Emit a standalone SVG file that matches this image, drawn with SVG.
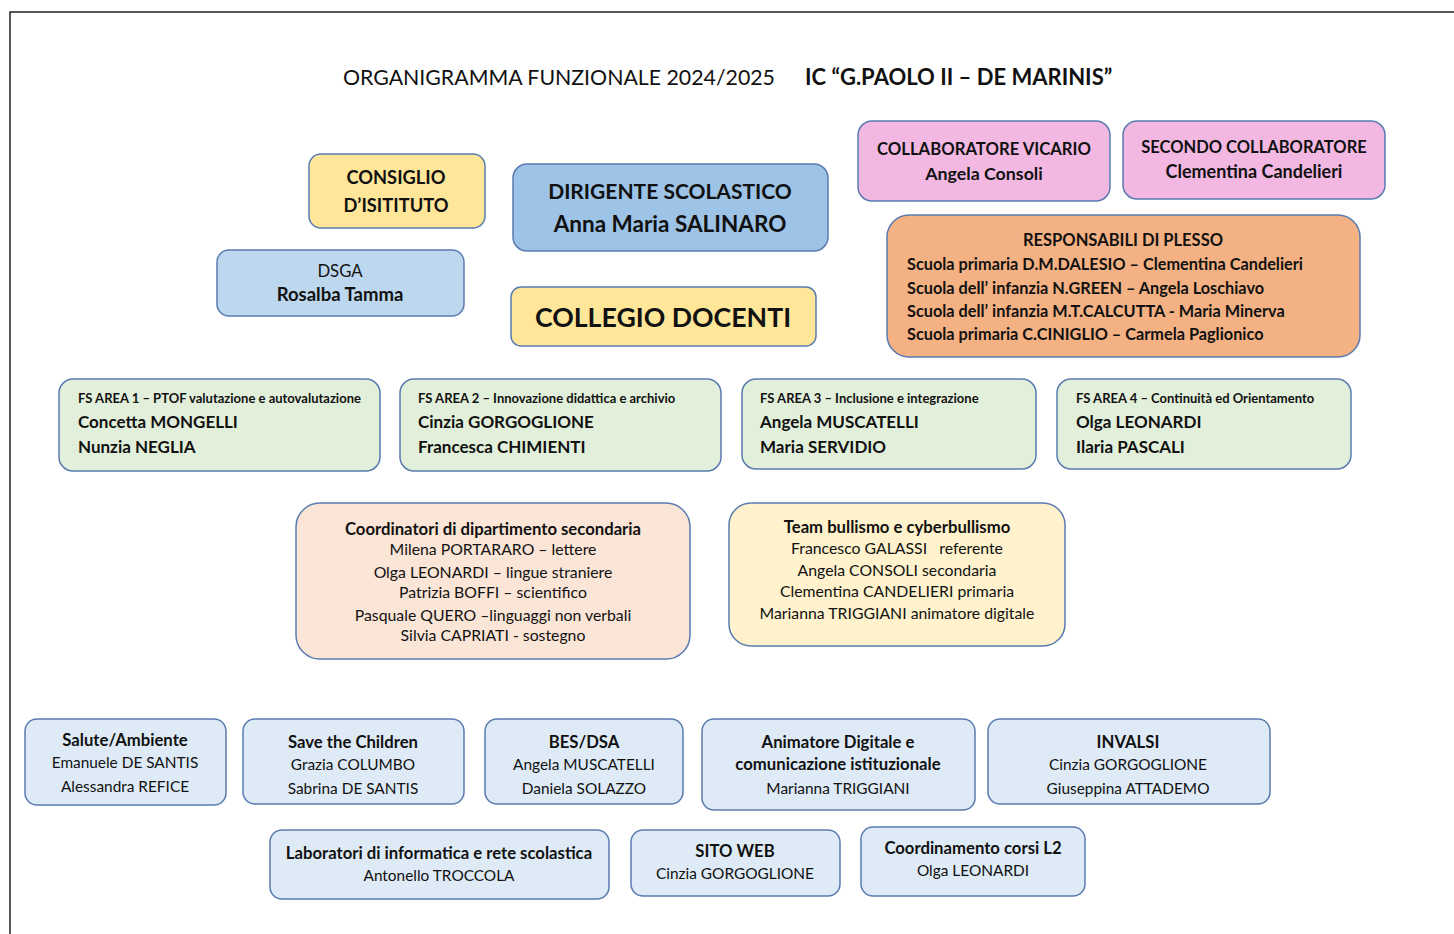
<svg xmlns="http://www.w3.org/2000/svg" width="1454" height="934" viewBox="0 0 1454 934">
<style>
text{font-family:Lato,"Open Sans","Liberation Sans",sans-serif;fill:#111;}
.b{font-weight:bold;}
.c{text-anchor:middle;}
.box{stroke:#5a7bb0;stroke-width:1.5;}
.yel{fill:#ffe699;}
.blu{fill:#9dc3e6;}
.lb{fill:#bdd7ee;}
.pink{fill:#f3b8e2;}
.ora{fill:#f4b183;}
.grn{fill:#e2efda;}
.pch{fill:#fbe5d6;}
.cre{fill:#fff2cc;}
.pale{fill:#deebf7;}
.h{font-size:16.7px;font-weight:bold;}
.r{font-size:15.8px;}
.rb{font-size:15.4px;}
.t17{font-size:17px;}
.t13{font-size:13px;}
</style>
<rect width="1454" height="934" fill="#fff"/>
<path d="M10 934 V12 H1454" fill="none" stroke="#222" stroke-width="1.5"/>
<g id="title">
<text x="343" y="85" font-size="21.3">ORGANIGRAMMA FUNZIONALE 2024/2025</text>
<text x="805" y="85" font-size="22" class="b">IC “G.PAOLO II – DE MARINIS”</text>
</g>
<g id="connectors"></g>
<g id="consiglio">
<rect class="box yel" x="309" y="154" width="176" height="74" rx="12"/>
<text class="b c" font-size="18.3" x="396" y="184">CONSIGLIO</text>
<text class="b c" font-size="18.3" x="396" y="212">D’ISITITUTO</text>
</g>
<g id="dirigente">
<rect class="box blu" x="513" y="164" width="315" height="87" rx="14"/>
<text class="b c" font-size="21" x="670" y="199">DIRIGENTE SCOLASTICO</text>
<text class="b c" font-size="22.5" x="670" y="232">Anna Maria SALINARO</text>
</g>
<g id="dsga">
<rect class="box lb" x="217" y="250" width="247" height="66" rx="12"/>
<text class="c" font-size="16.7" x="340" y="277">DSGA</text>
<text class="b c" font-size="18.5" x="340" y="301">Rosalba Tamma</text>
</g>
<g id="collegio">
<rect class="box yel" x="511" y="287" width="305" height="59" rx="10"/>
<text class="b c" font-size="26.7" x="663" y="327">COLLEGIO DOCENTI</text>
</g>
<g id="vicario">
<rect class="box pink" x="858" y="121" width="252" height="80" rx="14"/>
<text class="b c" font-size="16.7" x="984" y="155">COLLABORATORE VICARIO</text>
<text class="b c" font-size="17.8" x="984" y="180">Angela Consoli</text>
</g>
<g id="secondo">
<rect class="box pink" x="1123" y="121" width="262" height="78" rx="14"/>
<text class="b c" font-size="16.5" x="1254" y="153">SECONDO COLLABORATORE</text>
<text class="b c" font-size="18" x="1254" y="178">Clementina Candelieri</text>
</g>
<g id="plesso">
<rect class="box ora" x="887" y="215" width="473" height="142" rx="22"/>
<text class="b c" font-size="16.5" x="1123" y="246">RESPONSABILI DI PLESSO</text>
<text class="b" font-size="16.3" x="907" y="270">Scuola primaria D.M.DALESIO – Clementina Candelieri</text>
<text class="b" font-size="16.3" x="907" y="294">Scuola dell’ infanzia N.GREEN – Angela Loschiavo</text>
<text class="b" font-size="16.3" x="907" y="317">Scuola dell’ infanzia M.T.CALCUTTA - Maria Minerva</text>
<text class="b" font-size="16.3" x="907" y="340">Scuola primaria C.CINIGLIO – Carmela Paglionico</text>
</g>
<g id="fs1">
<rect class="box grn" x="59" y="379" width="321" height="92" rx="14"/>
<text class="b t13" x="78" y="403">FS AREA 1 – PTOF valutazione e autovalutazione</text>
<text class="b t17" x="78" y="428">Concetta MONGELLI</text>
<text class="b t17" x="78" y="453">Nunzia NEGLIA</text>
</g>
<g id="fs2">
<rect class="box grn" x="400" y="379" width="321" height="92" rx="14"/>
<text class="b t13" x="418" y="403">FS AREA 2 – Innovazione didattica e archivio</text>
<text class="b t17" x="418" y="428">Cinzia GORGOGLIONE</text>
<text class="b t17" x="418" y="453">Francesca CHIMIENTI</text>
</g>
<g id="fs3">
<rect class="box grn" x="742" y="379" width="294" height="90" rx="14"/>
<text class="b t13" x="760" y="403">FS AREA 3 – Inclusione e integrazione</text>
<text class="b t17" x="760" y="428">Angela MUSCATELLI</text>
<text class="b t17" x="760" y="453">Maria SERVIDIO</text>
</g>
<g id="fs4">
<rect class="box grn" x="1057" y="379" width="294" height="90" rx="14"/>
<text class="b t13" x="1076" y="403">FS AREA 4 – Continuità ed Orientamento</text>
<text class="b t17" x="1076" y="428">Olga LEONARDI</text>
<text class="b t17" x="1076" y="453">Ilaria PASCALI</text>
</g>
<g id="coordinatori">
<rect class="box pch" x="296" y="503" width="394" height="156" rx="24"/>
<text class="h c" x="493" y="535">Coordinatori di dipartimento secondaria</text>
<text class="c r" x="493" y="555">Milena PORTARARO – lettere</text>
<text class="c r" x="493" y="578">Olga LEONARDI – lingue straniere</text>
<text class="c r" x="493" y="598">Patrizia BOFFI – scientifico</text>
<text class="c r" x="493" y="621">Pasquale QUERO –linguaggi non verbali</text>
<text class="c r" x="493" y="641">Silvia CAPRIATI - sostegno</text>
</g>
<g id="bullismo">
<rect class="box cre" x="729" y="503" width="336" height="143" rx="22"/>
<text class="h c" x="897" y="533">Team bullismo e cyberbullismo</text>
<text class="c r" x="897" y="554" xml:space="preserve">Francesco GALASSI   referente</text>
<text class="c r" x="897" y="576">Angela CONSOLI secondaria</text>
<text class="c r" x="897" y="597">Clementina CANDELIERI primaria</text>
<text class="c r" x="897" y="619">Marianna TRIGGIANI animatore digitale</text>
</g>
<g id="salute">
<rect class="box pale" x="25" y="719" width="201" height="86" rx="12"/>
<text class="h c" x="125" y="746">Salute/Ambiente</text>
<text class="c rb" x="125" y="768">Emanuele DE SANTIS</text>
<text class="c rb" x="125" y="792">Alessandra REFICE</text>
</g>
<g id="save">
<rect class="box pale" x="243" y="719" width="221" height="85" rx="12"/>
<text class="h c" x="353" y="748">Save the Children</text>
<text class="c rb" x="353" y="770">Grazia COLUMBO</text>
<text class="c rb" x="353" y="794">Sabrina DE SANTIS</text>
</g>
<g id="bes">
<rect class="box pale" x="485" y="719" width="198" height="85" rx="12"/>
<text class="h c" x="584" y="748">BES/DSA</text>
<text class="c rb" x="584" y="770">Angela MUSCATELLI</text>
<text class="c rb" x="584" y="794">Daniela SOLAZZO</text>
</g>
<g id="animatore">
<rect class="box pale" x="702" y="719" width="273" height="91" rx="12"/>
<text class="h c" x="838" y="748">Animatore Digitale e</text>
<text class="h c" x="838" y="770">comunicazione istituzionale</text>
<text class="c rb" x="838" y="794">Marianna TRIGGIANI</text>
</g>
<g id="invalsi">
<rect class="box pale" x="988" y="719" width="282" height="85" rx="12"/>
<text class="h c" x="1128" y="748">INVALSI</text>
<text class="c rb" x="1128" y="770">Cinzia GORGOGLIONE</text>
<text class="c rb" x="1128" y="794">Giuseppina ATTADEMO</text>
</g>
<g id="laboratori">
<rect class="box pale" x="270" y="830" width="339" height="69" rx="12"/>
<text class="h c" x="439" y="859">Laboratori di informatica e rete scolastica</text>
<text class="c rb" x="439" y="881">Antonello TROCCOLA</text>
</g>
<g id="sito">
<rect class="box pale" x="631" y="830" width="209" height="66" rx="12"/>
<text class="h c" x="735" y="857">SITO WEB</text>
<text class="c rb" x="735" y="879">Cinzia GORGOGLIONE</text>
</g>
<g id="l2">
<rect class="box pale" x="861" y="827" width="224" height="69" rx="12"/>
<text class="h c" x="973" y="854">Coordinamento corsi L2</text>
<text class="c rb" x="973" y="876">Olga LEONARDI</text>
</g>
</svg>
